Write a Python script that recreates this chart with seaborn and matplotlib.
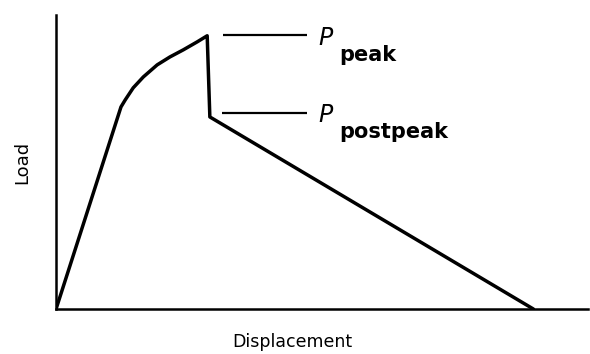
import matplotlib
matplotlib.use("Agg")
import matplotlib.pyplot as plt
import seaborn as sns
import pandas as pd

# load-displacement curve (arbitrary units)
disp = [0.0, 1.22, 1.30, 1.45, 1.64, 1.90, 2.14, 2.39, 2.65, 2.84, 2.89, 8.97]
load = [0.0, 6.87, 7.11, 7.52, 7.89, 8.30, 8.57, 8.81, 9.08, 9.29, 6.53, 0.0]

# leader lines for the two labelled loads
lead_names = ["peak", "postpeak"]
lead_y = [9.30, 6.66]
lead_x0 = [3.14, 3.12]
lead_x1 = [4.72, 4.72]

sns.set_style("white")
df = pd.DataFrame({"Displacement": disp, "Load": load})

fig = plt.figure(figsize=(5.9, 3.54), dpi=100)
ax = fig.add_axes([0.095, 0.127, 0.902, 0.831])

sns.lineplot(data=df, x="Displacement", y="Load", sort=False, estimator=None,
             color="black", linewidth=2.5, ax=ax)

ax.hlines(lead_y, lead_x0, lead_x1, color="black", linewidth=1.6)
for name, y, x1 in zip(lead_names, lead_y, lead_x1):
    ax.text(x1 + 0.2, y - 0.08, "P", fontsize=17, fontstyle="italic",
            color="black", ha="left", va="center")
    ax.text(x1 + 0.6, y - 0.86, name, fontsize=15, fontweight="bold",
            color="black", ha="left", va="baseline")

ax.set_xlim(0, 10)
ax.set_ylim(0, 10)
ax.set_xticks([])
ax.set_yticks([])
for s in ["top", "right"]:
    ax.spines[s].set_visible(False)
for s in ["left", "bottom"]:
    ax.spines[s].set_color("black")
    ax.spines[s].set_linewidth(1.8)

ax.set_xlabel("Displacement", fontsize=12.5, color="black")
ax.xaxis.set_label_coords(0.444, -0.08, transform=ax.transAxes)
ax.xaxis.label.set_va("top")
ax.set_ylabel("Load", fontsize=13, color="black", labelpad=18)

fig.savefig("out.png", dpi=100)
